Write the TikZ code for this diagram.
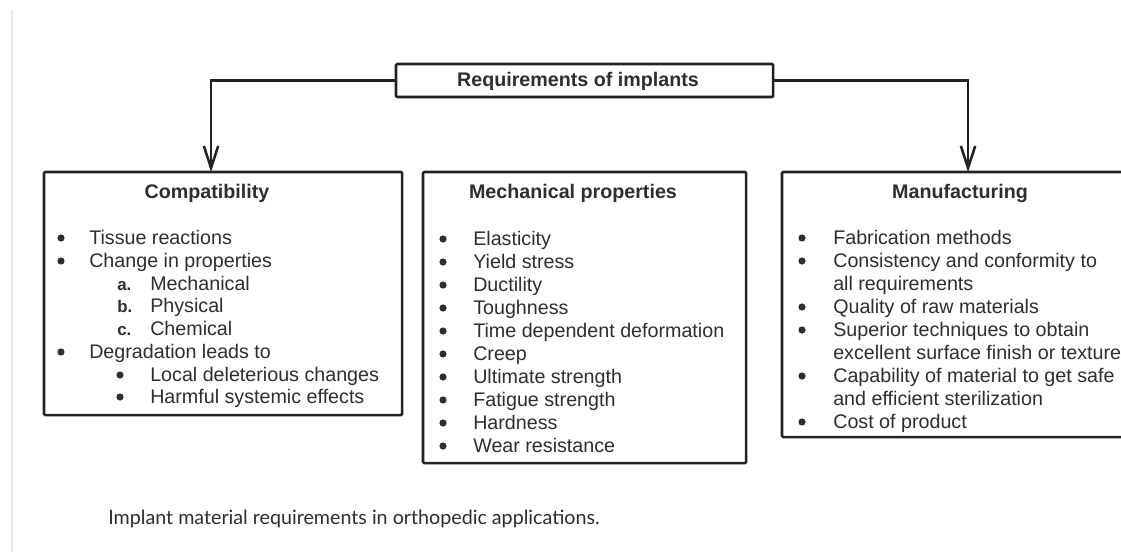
\documentclass[tikz,border=0pt]{standalone}
\usepackage{fontspec}
\setmainfont{Liberation Sans}
\newfontfamily\capfont{Lato}
\usetikzlibrary{arrows.meta}
\definecolor{txtgray}{HTML}{2E2E2E}
\definecolor{linegray}{HTML}{222222}
\definecolor{edgegray}{HTML}{E8E8E8}
\tikzset{
  box/.style={draw=linegray, line width=1.8pt, anchor=north west, inner sep=0pt, outer sep=0pt, rounded corners=0.8pt},
  head/.style={font=\fontsize{14}{16}\selectfont\bfseries, text=txtgray, inner sep=0pt, anchor=base},
  item/.style={font=\fontsize{14}{16}\selectfont, text=txtgray, inner sep=0pt, anchor=base west},
  lab/.style={font=\fontsize{12}{14}\selectfont\bfseries, text=txtgray, inner sep=0pt, anchor=base west},
  link/.style={draw=linegray, line width=1.8pt, -{Straight Barb[length=0.55cm,width=0.36cm]}},
}
\newcommand{\bul}[2]{\fill[txtgray] (#1,#2) circle (0.09cm);}

\begin{document}
\begin{tikzpicture}[x=0.025cm, y=-0.025cm] % 1 unit = 1 pixel
  \useasboundingbox (0,0) rectangle (1121,552);
  \clip (0,0) rectangle (1121,552);
  \fill[white] (0,0) rectangle (1121,552);
  \draw[edgegray, line width=2pt] (12,10) -- (12,552); % page edge

  % boxes
  \node[box, minimum width=9.425cm, minimum height=0.825cm] (req) at (396,64) {};
  \node[box, minimum width=8.95cm, minimum height=6.075cm] (compat) at (44,172) {};
  \node[box, minimum width=8.075cm, minimum height=7.275cm] (mech) at (423,172) {};
  \node[box, minimum width=9.5cm, minimum height=6.625cm] (manu) at (782,172) {};

  % titles
  \node[head] (reqt) at (578,87) {Requirements of implants};
  \node[head] (compatt) at (207,198) {Compatibility};
  \node[head] (mecht) at (573,198) {Mechanical properties};
  \node[head] (manut) at (960,198) {Manufacturing};

  % arrows
  \draw[link] (req.west) -| ([xshift=-0.3cm]compat.north);
  \draw[link] (req.east) -| ([xshift=-0.1cm]manu.north);

  % compatibility
  \bul{61}{238} \node[item] (c1) at (89,244) {Tissue reactions};
  \bul{61}{261} \node[item] (c2) at (89,267) {Change in properties};
  \node[lab] (ca) at (117,290) {a.}; \node[item] (c3) at (150,290) {Mechanical};
  \node[lab] (cb) at (117,312) {b.}; \node[item] (c4) at (150,312) {Physical};
  \node[lab] (cc) at (117,335) {c.}; \node[item] (c5) at (150,335) {Chemical};
  \bul{61}{352} \node[item] (c6) at (89,358) {Degradation leads to};
  \bul{120}{375} \node[item] (c7) at (150,381) {Local deleterious changes};
  \bul{120}{397} \node[item] (c8) at (150,403) {Harmful systemic effects};

  % mechanical properties
  \foreach \txt [count=\i from 0] in {Elasticity, Yield stress, Ductility, Toughness,
      Time dependent deformation, Creep, Ultimate strength, Fatigue strength,
      Hardness, Wear resistance}{
    \bul{443}{239+23*\i}
    \node[item] (m\i) at (473,245+23*\i) {\txt};
  }

  % manufacturing
  \foreach \txt/\b [count=\i from 0] in {Fabrication methods/1,
      Consistency and conformity to/1, all requirements/0,
      Quality of raw materials/1, Superior techniques to obtain/1,
      excellent surface finish or texture/0, Capability of material to get safe/1,
      and efficient sterilization/0, Cost of product/1}{
    \ifnum\b=1 \bul{802}{238+23*\i} \fi
    \node[item] (f\i) at (833,244+23*\i) {\txt};
  }

  % caption
  \node[font=\capfont\fontsize{14}{16}\selectfont, text=txtgray, inner sep=0pt, anchor=base west]
    (cap) at (108,524) {Implant material requirements in orthopedic applications.};
\end{tikzpicture}
\end{document}
